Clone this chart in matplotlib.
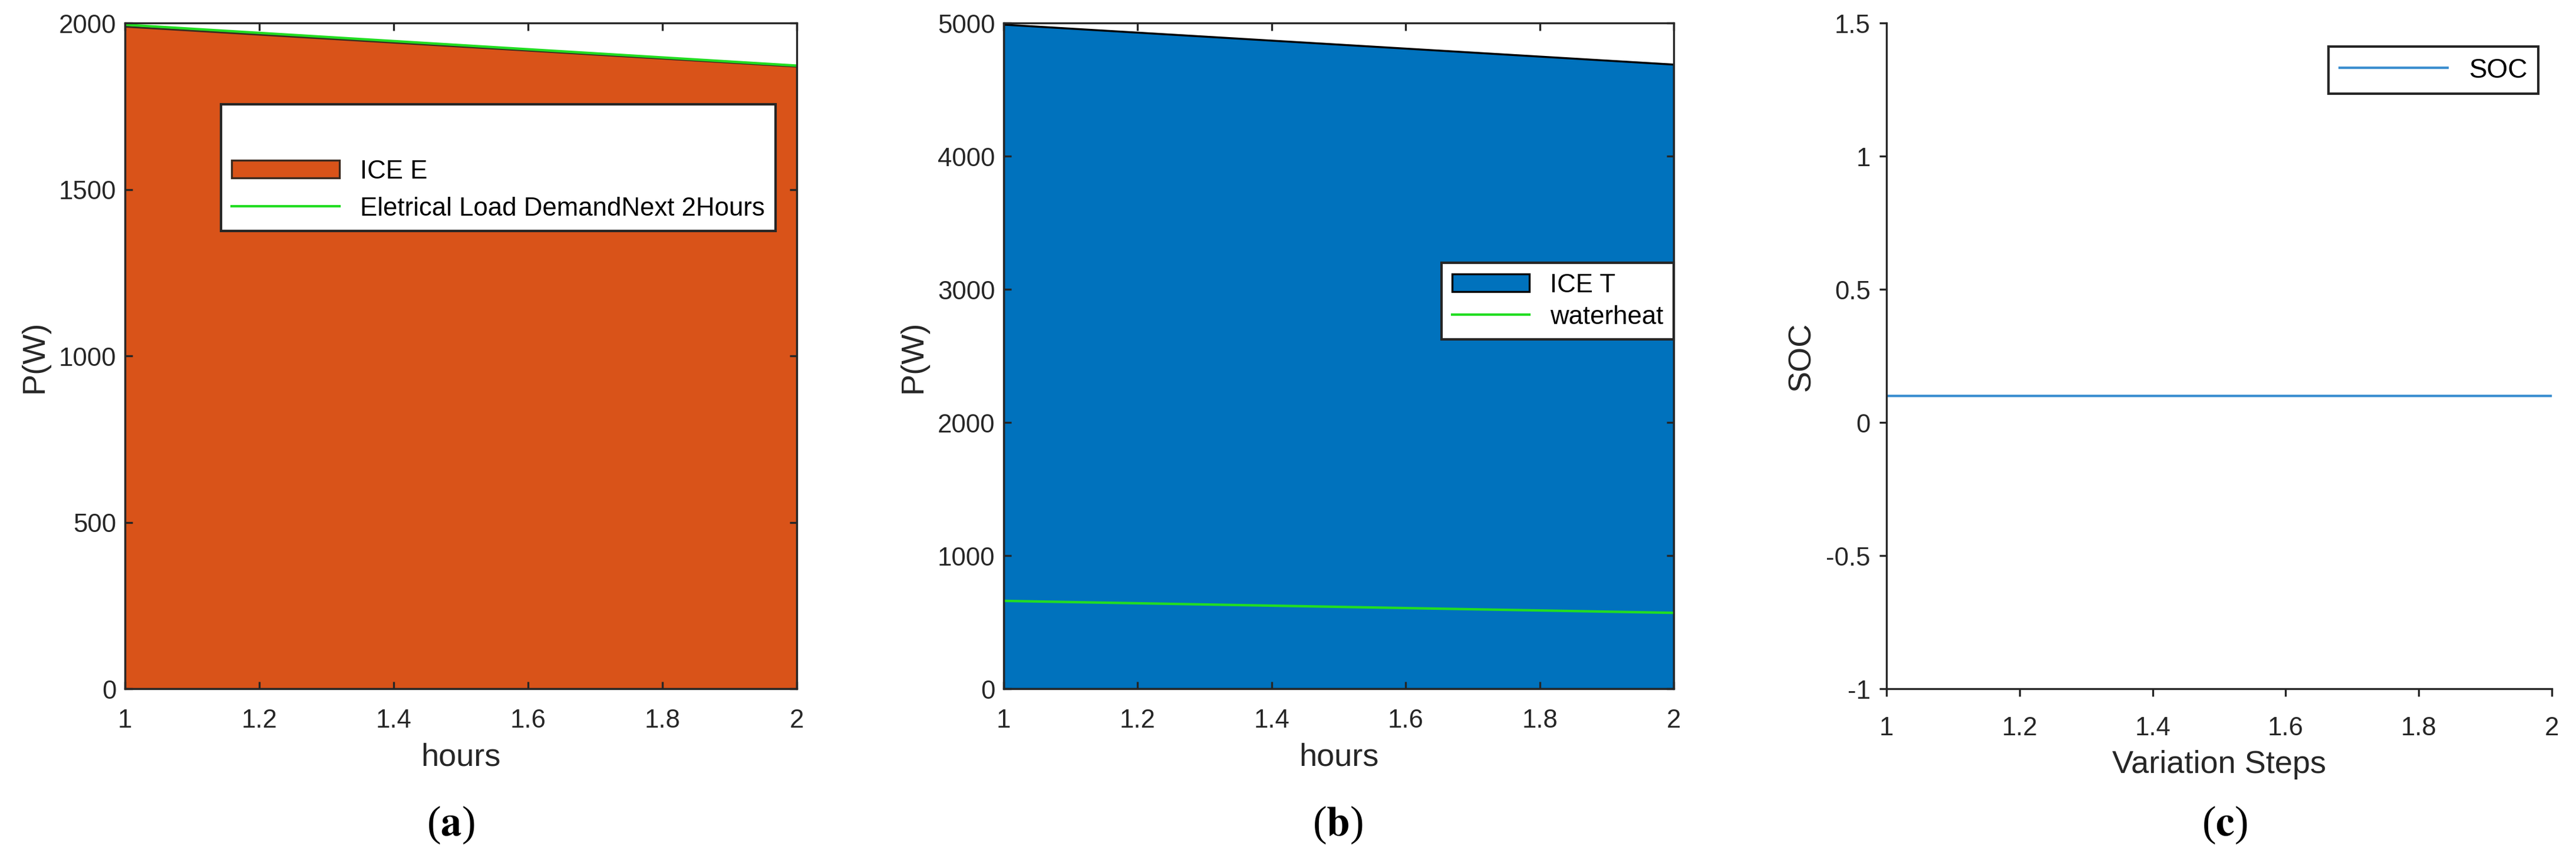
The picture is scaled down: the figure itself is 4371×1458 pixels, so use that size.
import matplotlib
matplotlib.use("Agg")
import matplotlib.pyplot as plt

plt.rcParams["font.family"] = ["Liberation Sans", "DejaVu Sans"]
plt.rcParams["mathtext.fontset"] = "stix"

# ---------------------------------------------------------------------------
# Data
# ---------------------------------------------------------------------------
hours = [1, 2]
ice_e = [1990, 1870]
load_demand = [1995, 1872]
ice_t = [4990, 4690]
waterheat = [660, 570]
steps = [1, 2]
soc = [0.1, 0.1]
xticks = [1, 1.2, 1.4, 1.6, 1.8, 2]
xtick_labels = ["1", "1.2", "1.4", "1.6", "1.8", "2"]

ORANGE = "#D95319"
BLUE = "#0072BD"
GREEN = "#22DD22"
SOC_BLUE = "#3C8FD0"
TXT = "#262626"

fig = plt.figure(figsize=(14.57, 4.863), dpi=300)
W, H = 4371, 1459


def add_ax(x0, x1, y0, y1):
    return fig.add_axes([x0 / W, 1 - y1 / H, (x1 - x0) / W, (y1 - y0) / H])


def style(ax, box=True):
    for s in ax.spines.values():
        s.set_color(TXT)
        s.set_linewidth(0.8)
    if not box:
        ax.spines["top"].set_visible(False)
        ax.spines["right"].set_visible(False)
    ax.set_xticks(xticks)
    ax.set_xticklabels(xtick_labels)
    ax.tick_params(labelsize=10.5, colors=TXT, direction="in", length=3,
                   top=box, right=box)
    ax.tick_params(axis="x", pad=8)


# -- (a) --
ax1 = add_ax(212, 1352, 40, 1170)
ax1.fill_between(hours, 0, ice_e, facecolor=ORANGE, edgecolor="#3a2a20",
                 linewidth=0.8, label="ICE E")
ax1.plot(hours, load_demand, color=GREEN, lw=1.0,
         label="Eletrical Load DemandNext 2Hours")
ax1.set_xlim(1, 2)
ax1.set_ylim(0, 2000)
ax1.set_yticks([0, 500, 1000, 1500, 2000])
ax1.set_xlabel("hours", fontsize=13, color=TXT)
ax1.set_ylabel("P(W)", fontsize=13, color=TXT)
style(ax1)
ax1.legend(loc="upper right", bbox_to_anchor=(0.968, 0.878), fontsize=10.5,
           fancybox=False, edgecolor=TXT, framealpha=1, title=" ",
           title_fontsize=14, handlelength=4.2, borderaxespad=0)

# -- (b) --
ax2 = add_ax(1703, 2840, 40, 1170)
ax2.fill_between(hours, 0, ice_t, facecolor=BLUE, edgecolor="black",
                 linewidth=0.8, label="ICE T")
ax2.plot(hours, waterheat, color=GREEN, lw=1.0, label="waterheat")
ax2.set_xlim(1, 2)
ax2.set_ylim(0, 5000)
ax2.set_xlabel("hours", fontsize=13, color=TXT)
ax2.set_ylabel("P(W)", fontsize=13, color=TXT)
style(ax2)
ax2.legend(loc="upper right", bbox_to_anchor=(1.0, 0.64), fontsize=10.5,
           fancybox=False, edgecolor=TXT, framealpha=1, handlelength=3,
           borderaxespad=0, labelspacing=0.3)

# -- (c) --
ax3 = add_ax(3201, 4330, 40, 1170)
ax3.plot(steps, soc, color=SOC_BLUE, lw=1.0, label="SOC")
ax3.set_xlim(1, 2)
ax3.set_ylim(-1, 1.5)
ax3.set_yticks([-1, -0.5, 0, 0.5, 1, 1.5])
ax3.set_yticklabels(["-1", "-0.5", "0", "0.5", "1", "1.5"])
ax3.set_xlabel("Variation Steps", fontsize=13, color=TXT)
ax3.set_ylabel("SOC", fontsize=13, color=TXT)
style(ax3, box=False)
ax3.tick_params(direction="out")
ax3.legend(loc="upper right", bbox_to_anchor=(0.98, 0.965), fontsize=11,
           fancybox=False, edgecolor=TXT, framealpha=1, handlelength=4,
           borderaxespad=0)

for xc, lab in [(765, "a"), (2270, "b"), (3775, "c")]:
    fig.text(xc / W, 1 - 1400 / H, "($\\mathbf{" + lab + "}$)",
             family="Liberation Serif", fontsize=17, ha="center", va="center")

fig.savefig("out.png", dpi=300)
